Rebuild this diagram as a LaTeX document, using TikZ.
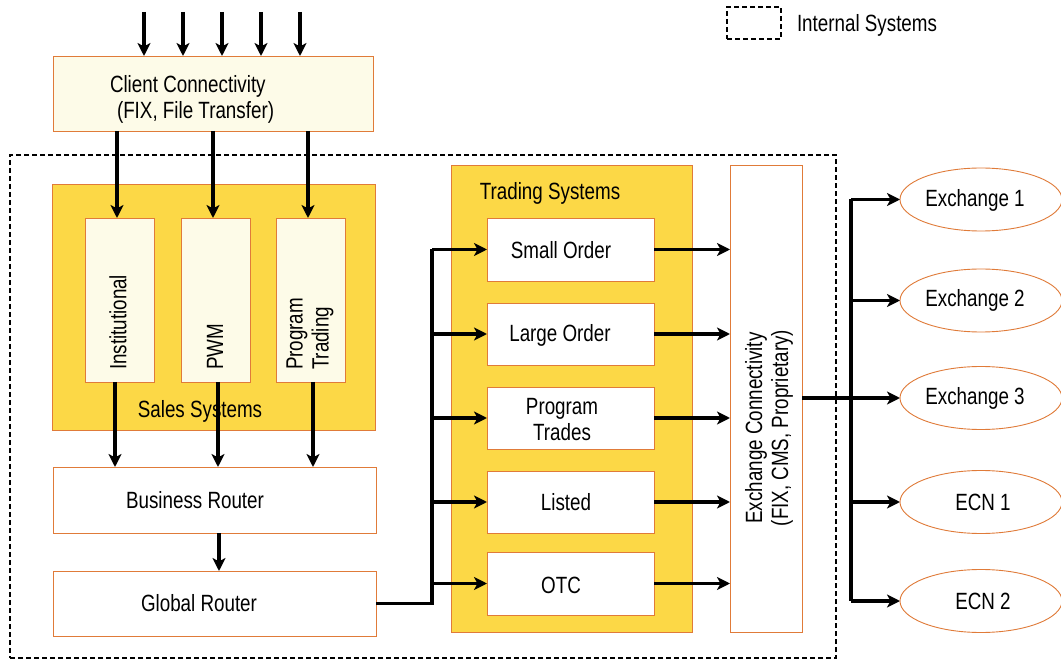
\documentclass[tikz,border=0pt]{standalone}
\usepackage{fontspec}
\setmainfont[FakeStretch=0.8]{Liberation Sans}
\usetikzlibrary{arrows.meta,shapes.geometric,calc}
\definecolor{ylw}{HTML}{FCD846}
\definecolor{org}{HTML}{E07B39}
\definecolor{crm}{HTML}{FDFBE8}
\begin{document}
\begin{tikzpicture}[x=1pt,y=-1pt,
  every node/.style={font=\fontsize{23.5}{26}\selectfont, inner sep=0pt, outer sep=0pt},
  box/.style={draw=org, line width=0.9pt, rectangle},
  whitebox/.style={box, fill=white},
  creambox/.style={box, fill=crm},
  yellowbox/.style={box, fill=ylw},
  oval/.style={draw=org, line width=0.9pt, ellipse, fill=white, minimum width=162pt, minimum height=63pt},
  dashbox/.style={draw=black, line width=1.8pt, dash pattern=on 5pt off 3pt, rectangle},
  arr/.style={line width=3.2pt, -{Stealth[length=13pt,width=13pt,inset=3.5pt]}},
  bus/.style={line width=3.2pt},
  lbl/.style={text=black}
]
\useasboundingbox[fill=white] (0,0) rectangle (1061,660);

% internal systems frame and legend
\node[dashbox, minimum width=826pt, minimum height=503pt] (internal) at (423,406.5) {};
\node[dashbox, minimum width=54pt, minimum height=32pt] (legend) at (754,23) {};
\node[lbl, anchor=west] (legendtxt) at (797,25) {Internal Systems};

% client connectivity
\node[creambox, minimum width=320pt, minimum height=75pt] (client) at (213,93.5) {};
\node[lbl, anchor=west, align=left] (clienttxt) at (110,99) {Client Connectivity\\\hspace{7pt}(FIX, File Transfer)};

% sales systems
\node[yellowbox, minimum width=323pt, minimum height=246pt] (sales) at (213.5,307) {};
\node[lbl] (salestxt) at (200,411) {Sales Systems};
\node[creambox, minimum width=69pt, minimum height=164pt] (inst) at (119.5,300) {};
\node[creambox, minimum width=69pt, minimum height=164pt] (pwm) at (215.5,300) {};
\node[creambox, minimum width=69pt, minimum height=164pt] (progt) at (310.5,300) {};
\node[lbl, rotate=90, anchor=west] (insttxt) at (118,370) {Institutional};
\node[lbl, rotate=90, anchor=west] (pwmtxt) at (215,370) {PWM};
\node[lbl, rotate=90, anchor=west, align=left] (progttxt) at (310,370) {Program\\Trading};

% routers
\node[whitebox, minimum width=323pt, minimum height=66pt] (br) at (214.5,500) {};
\node[lbl] (brtxt) at (195,500) {Business Router};
\node[whitebox, minimum width=323pt, minimum height=65pt] (gr) at (214.5,603.5) {};
\node[lbl] (grtxt) at (199,603) {Global Router};

% trading systems
\node[yellowbox, minimum width=241pt, minimum height=467pt] (trading) at (571.5,398.5) {};
\node[lbl] (tradingtxt) at (550,193) {Trading Systems};
\node[whitebox, minimum width=167pt, minimum height=63pt] (small) at (570.5,249.5) {};
\node[whitebox, minimum width=167pt, minimum height=62pt] (large) at (570.5,334) {};
\node[whitebox, minimum width=167pt, minimum height=62pt] (ptrades) at (570.5,418) {};
\node[whitebox, minimum width=167pt, minimum height=62pt] (listed) at (570.5,502) {};
\node[whitebox, minimum width=167pt, minimum height=63pt] (otc) at (570.5,583.5) {};
\node[lbl] (smalltxt) at (561,250) {Small Order};
\node[lbl] (largetxt) at (560,335) {Large Order};
\node[lbl, align=center] (ptradestxt) at (562,420) {Program\\Trades};
\node[lbl] (listedtxt) at (566,502) {Listed};
\node[lbl] (otctxt) at (561,585) {OTC};

% exchange connectivity
\node[whitebox, minimum width=72pt, minimum height=467pt] (excon) at (766,398.5) {};
\node[lbl, rotate=90, align=center] (excontxt) at (769,428) {Exchange Connectivity\\(FIX, CMS, Proprietary)};

% venues
\node[oval] (ex1) at (981,199.5) {};
\node[oval] (ex2) at (981,300.5) {};
\node[oval] (ex3) at (981,398) {};
\node[oval] (ecn1) at (981,502) {};
\node[oval] (ecn2) at (981,601) {};
\node[lbl] (ex1txt) at (975,200) {Exchange 1};
\node[lbl] (ex2txt) at (975,300) {Exchange 2};
\node[lbl] (ex3txt) at (975,398) {Exchange 3};
\node[lbl] (ecn1txt) at (983,502) {ECN 1};
\node[lbl] (ecn2txt) at (983,601) {ECN 2};

% incoming client arrows
\foreach \i/\xx in {1/144,2/183,3/222,4/261,5/300} {
  \coordinate (in\i) at (\xx,12);
  \draw[arr] (in\i) -- (in\i |- client.north);
}

% client to sales
\draw[arr] ([xshift=-2.5pt]inst.north |- client.south) -- ([xshift=-2.5pt]inst.north);
\draw[arr] ([xshift=-2.5pt]pwm.north |- client.south) -- ([xshift=-2.5pt]pwm.north);
\draw[arr] ([xshift=-2.5pt]progt.north |- client.south) -- ([xshift=-2.5pt]progt.north);

% sales to business router
\draw[arr] ([xshift=-4.5pt]inst.south) -- ([xshift=-4.5pt]inst.south |- br.north);
\draw[arr] ([xshift=2.5pt]pwm.south) -- ([xshift=2.5pt]pwm.south |- br.north);
\draw[arr] ([xshift=2.5pt]progt.south) -- ([xshift=2.5pt]progt.south |- br.north);

% business router to global router
\draw[arr] ([xshift=4.5pt]br.south) -- ([xshift=4.5pt]gr.north);

% global router to trading systems
\coordinate (busx) at (432,0);
\draw[bus] (gr.east) -| (busx |- small.west);
\foreach \t in {small,large,ptrades,listed,otc} {
  \draw[arr] (busx |- \t.west) -- (\t.west);
  \draw[arr] (\t.east) -- (excon.west |- \t.east);
}

% exchange connectivity to venues
\coordinate (busy) at (851,0);
\draw[bus] (excon.east |- ex3.west) -- (busy |- ex3.west);
\draw[bus] (busy |- ex1.west) -- (busy |- ecn2.west);
\foreach \v in {ex1,ex2,ex3,ecn1,ecn2} {
  \draw[arr] (busy |- \v.west) -- (\v.west);
}
\end{tikzpicture}
\end{document}
